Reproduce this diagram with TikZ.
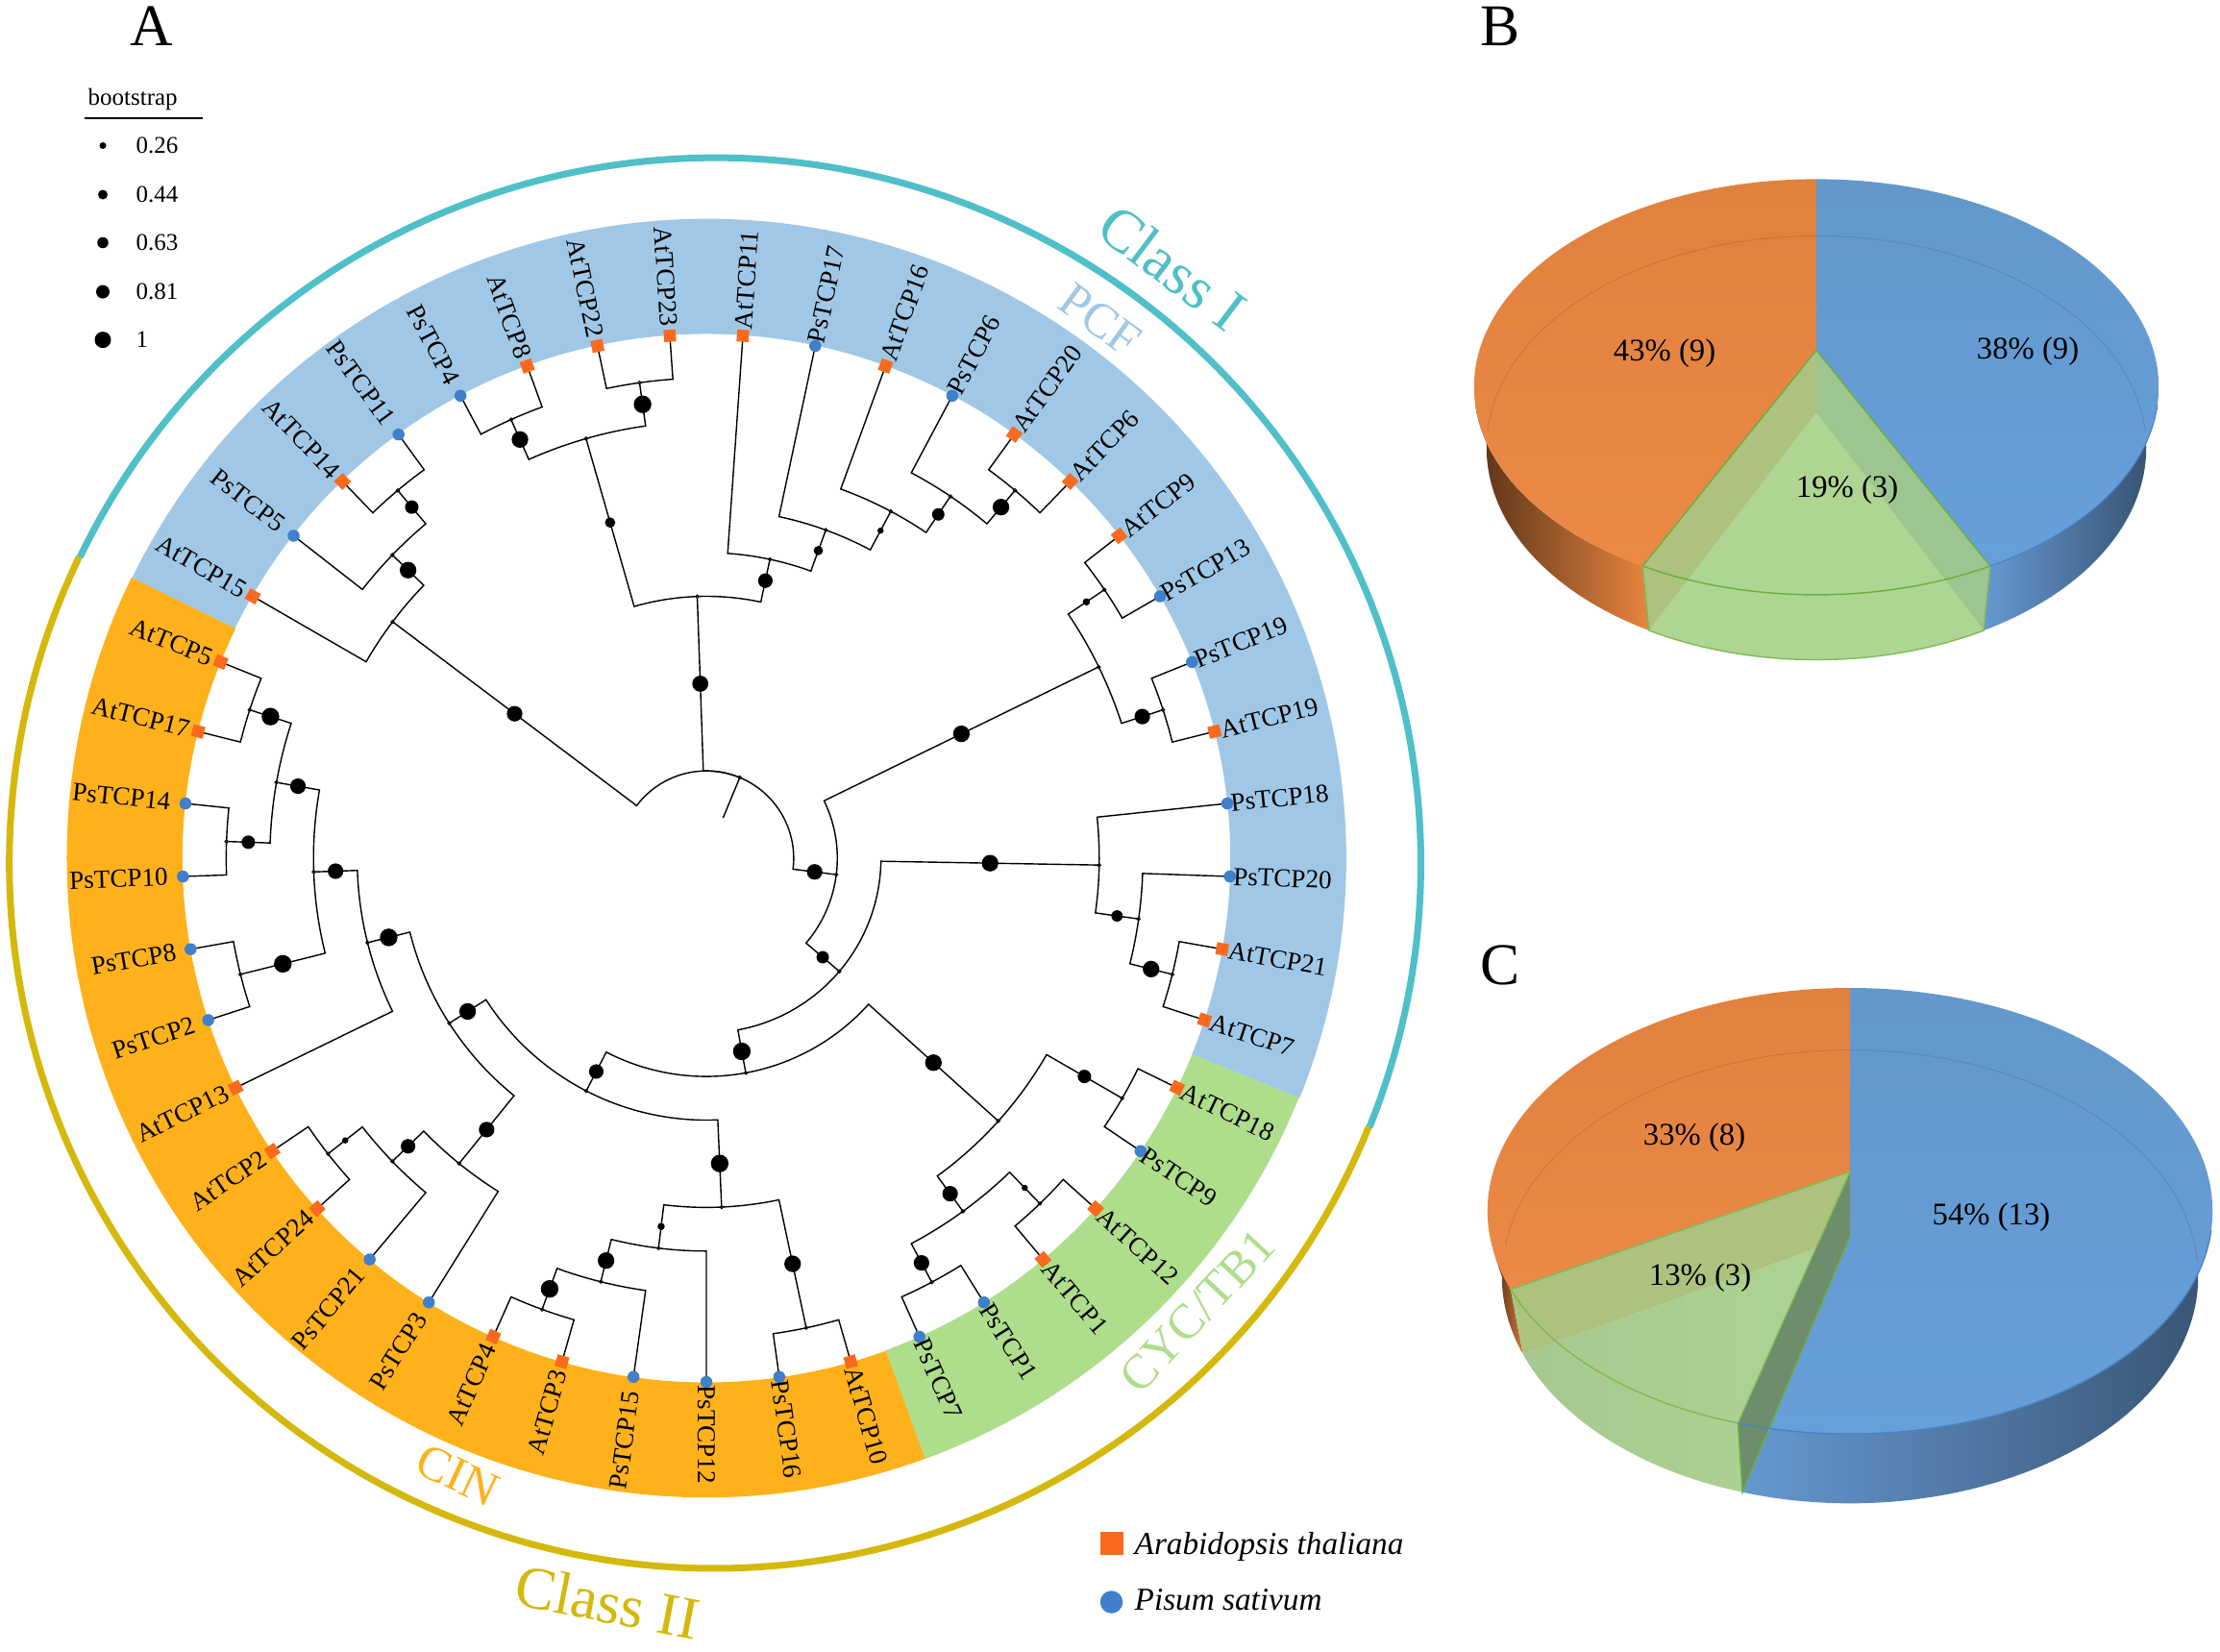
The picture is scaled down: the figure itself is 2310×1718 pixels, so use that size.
\documentclass[tikz,border=0pt]{standalone}
\usepackage{fontspec}
\setmainfont{Liberation Serif}
\usepackage{tikz}

\definecolor{pcfblue}{HTML}{A0C8E6}
\definecolor{cinorange}{HTML}{FFB11B}
\definecolor{cycgreen}{HTML}{AEDD8C}
\definecolor{classteal}{HTML}{4FBFC8}
\definecolor{classgold}{HTML}{D4B80C}
\definecolor{atorange}{HTML}{FA6A1E}
\definecolor{psblue}{HTML}{3F7FCB}
\definecolor{pieorange}{HTML}{E8853F}
\definecolor{pieorangea}{HTML}{E0813E}
\definecolor{pieorangeb}{HTML}{EC8947}
\definecolor{pieblue}{HTML}{6699D2}
\definecolor{piebluea}{HTML}{6498CB}
\definecolor{piedge}{HTML}{4A82C4}
\definecolor{pieblueb}{HTML}{679FDB}
\definecolor{pieline}{HTML}{6BAF40}
\definecolor{pielight}{HTML}{AED592}
\definecolor{pieolive}{HTML}{ADC27E}
\definecolor{piemint}{HTML}{9DC58F}
\definecolor{piedark}{HTML}{6E8D6C}

\tikzset{
	branch/.style={line width=0.4pt,black},
	bootdot/.style={circle,fill=black,inner sep=0pt},
	opendot/.style={circle,draw=black,fill=white,line width=0.25pt,inner sep=0pt,minimum size=0.035cm},
	atmark/.style={rectangle,fill=atorange,inner sep=0pt,minimum size=0.125cm},
	psmark/.style={circle,fill=psblue,inner sep=0pt,minimum size=0.125cm},
	tiplabel/.style={inner sep=0pt,font=\fontsize{7.7}{9}\selectfont},
	legendtext/.style={inner sep=0pt,anchor=west,font=\fontsize{7.1}{9}\selectfont},
	speciestext/.style={inner sep=0pt,anchor=west,font=\fontsize{9.45}{11}\selectfont\itshape},
	bigtext/.style={inner sep=0pt,font=\fontsize{17.8}{22}\selectfont},
	grouptext/.style={inner sep=0pt,font=\fontsize{14.5}{18}\selectfont},
	paneltext/.style={inner sep=0pt,font=\fontsize{17.5}{21}\selectfont},
	pietext/.style={inner sep=0pt,font=\fontsize{9.3}{11}\selectfont},
	btop/.style={x radius=3.56cm,y radius=2.162cm},
	bbase/.style={x radius=3.43cm,y radius=2.204cm},
	ctop/.style={x radius=3.77cm,y radius=2.32cm},
	cbase/.style={x radius=3.62cm,y radius=2.357cm}
}

\begin{document}
\begin{tikzpicture}[x=0.01cm,y=0.01cm]
	\useasboundingbox (0,0) rectangle (2310,-1718);

	%PANEL LETTERS
	\node[paneltext] (panelA) at (158,-27) {A};
	\node[paneltext] (panelB) at (1561,-27) {B};
	\node[paneltext] (panelC) at (1561,-1004) {C};

	%BOOTSTRAP LEGEND
	\node[legendtext] (boottitle) at (91,-103.5) {bootstrap};
	\coordinate (bootl) at (88,-123);
	\coordinate (bootr) at (211,-123);
	\draw[line width=0.45pt] (bootl)--(bootr);
	\foreach \val/\ypos/\dia in {0.26/151.5/7,0.44/202.5/10,0.63/252.5/11.5,0.81/303.6/14,1/353.6/17}{
		\node[bootdot,minimum size=\dia*0.01cm] (key\ypos) at (107,-\ypos) {};
		\node[legendtext] (val\ypos) at (141,-\ypos) {\val};
	}

	%SPECIES LEGEND
	\node[rectangle,fill=atorange,inner sep=0pt,minimum size=0.24cm] (keyat) at (1156.5,-1606) {};
	\node[speciestext] (nameat) at (1180,-1609) {Arabidopsis thaliana};
	\node[circle,fill=psblue,inner sep=0pt,minimum size=0.235cm] (keyps) at (1156.5,-1667) {};
	\node[speciestext] (nameps) at (1180,-1665) {Pisum sativum};

	%CLASS ARCS
	\begin{scope}[shift={(744,-898)}]
		\draw[classteal,line width=0.07cm] (154.3:733.5) arc[start angle=154.3,end angle=-22,radius=7.335cm];
		\draw[classgold,line width=0.07cm] (-22:733.5) arc[start angle=-22,end angle=-205.7,radius=7.335cm];
	\end{scope}
	\node[bigtext,text=classteal,rotate=-37] (classone) at (1220,-278) {Class I};
	\node[bigtext,text=classgold,rotate=-11] (classtwo) at (632,-1667) {Class II};
	\node[grouptext,text=pcfblue,rotate=-36] (pcf) at (1145,-333) {PCF};
	\node[grouptext,text=cinorange,rotate=-25] (cin) at (476,-1535) {CIN};
	\node[grouptext,text=cycgreen,rotate=47] (cyc) at (1246,-1364) {CYC/TB1};

	%TREE
	\begin{scope}[shift={(735,-893)}]
		%COLOURED RING
		\foreach \col/\from/\to in {pcfblue/154/-22,cycgreen/-22/-70,cinorange/-70/-206}{
			\fill[\col] (\from:665) arc[start angle=\from,end angle=\to,radius=6.65cm]
				-- (\to:545) arc[start angle=\to,end angle=\from,radius=5.45cm] -- cycle;
		}

		%ROOT
		\def\lvl{45.42}
		\def\angroot{67.5}
		\def\levroot{2}
		\coordinate (root) at (67.5:90.84);
		\coordinate (stub) at (67.5:45.42);
		\draw[branch] (root)--(stub);
		\node[opendot] (rootdot) at (root) {};

		%INNER NODES
		\foreach \nd/\ang/\lev/\up/\boot in {
			n1/143/9/root/15,n2/136/10/n1/16,n3/130/11/n2/13,
			n4/92/6/root/15.5,n5/106/10/n4/10,n6/114/11/n5/16,n7/98/11/n5/17,
			n8/78/7/n4/14,n9/70/8/n8/9,n10/62/9/n9/6,n11/56/10/n10/12,n12/50/11/n11/16,
			n13/-7.2/3/root/15,n14/26/10/n13/16,n15/34/11/n14/7,n16/18/11/n14/15,
			n17/-40.4/4/n13/12,n18/-1/9/n17/16,n19/-8/10/n18/11,n20/-14/11/n19/16,
			n21/-79.6/5/n17/17,n22/-42/9/n21/16,n23/-30/11/n22/13,n24/-54/10/n22/15,
			n25/-46/11/n24/6,n26/-62/11/n24/15,
			n27/-117.3/6/n21/14,n28/-87.5/8/n27/17,n29/-78/11/n28/16,n30/-97/9/n28/7,
			n31/-104/10/n30/16,n33/-110/11/n31/17,
			n32/-147.3/7/n27/16,n38/-129/9/n32/15,n39/-136/10/n38/14,n40/-142/11/n39/6,
			n34/-166/8/n32/17,n35/-178/9/n34/15,n36/-190/10/n35/15,n37/-166/11/n35/17,
			n41/-182/11/n36/13,n42/-198/11/n36/17}{
			\expandafter\xdef\csname ang\nd\endcsname{\ang}
			\expandafter\xdef\csname lev\nd\endcsname{\lev}
			\edef\upang{\csname ang\up\endcsname}
			\pgfmathsetmacro\rr{\lev*\lvl}
			\pgfmathsetmacro\upr{\csname lev\up\endcsname*\lvl}
			\pgfmathsetmacro\midr{(\rr+\upr)/2}
			\coordinate (\nd) at (\ang:\rr);
			\draw[branch] (\nd)--(\ang:\upr) arc[start angle=\ang,end angle=\upang,radius=\upr*0.01cm];
			\node[bootdot,minimum size=\boot*0.0108cm] (\nd b) at (\ang:\midr) {};
			\node[opendot] (\nd o) at (\nd) {};
		}

		%TIPS
		\def\atname{atmark}
		\foreach \nd/\ang/\up/\mk in {
			AtTCP15/150/n1/atmark,PsTCP5/142/n2/psmark,AtTCP14/134/n3/atmark,PsTCP11/126/n3/psmark,
			PsTCP4/118/n6/psmark,AtTCP8/110/n6/atmark,AtTCP22/102/n7/atmark,AtTCP23/94/n7/atmark,
			AtTCP11/86/n8/atmark,PsTCP17/78/n9/psmark,AtTCP16/70/n10/atmark,PsTCP6/62/n11/psmark,
			AtTCP20/54/n12/atmark,AtTCP6/46/n12/atmark,AtTCP9/38/n15/atmark,PsTCP13/30/n15/psmark,
			PsTCP19/22/n16/psmark,AtTCP19/14/n16/atmark,PsTCP18/6/n18/psmark,PsTCP20/-2/n19/psmark,
			AtTCP21/-10/n20/atmark,AtTCP7/-18/n20/atmark,AtTCP18/-26/n23/atmark,PsTCP9/-34/n23/psmark,
			AtTCP12/-42/n25/atmark,AtTCP1/-50/n25/atmark,PsTCP1/-58/n26/psmark,PsTCP7/-66/n26/psmark,
			AtTCP10/-74/n29/atmark,PsTCP16/-82/n29/psmark,PsTCP12/-90/n30/psmark,PsTCP15/-98/n31/psmark,
			AtTCP3/-106/n33/atmark,AtTCP4/-114/n33/atmark,PsTCP3/-122/n38/psmark,PsTCP21/-130/n39/psmark,
			AtTCP24/-138/n40/atmark,AtTCP2/-146/n40/atmark,AtTCP13/-154/n34/atmark,PsTCP2/-162/n37/psmark,
			PsTCP8/-170/n37/psmark,PsTCP10/-178/n41/psmark,PsTCP14/-186/n41/psmark,
			AtTCP17/-194/n42/atmark,AtTCP5/-202/n42/atmark}{
			\edef\upang{\csname ang\up\endcsname}
			\pgfmathsetmacro\upr{\csname lev\up\endcsname*\lvl}
			\pgfmathsetmacro\rot{cos(\ang)<0 ? \ang+180 : \ang}
			\edef\mktest{\mk}
			\ifdim\rot pt=\ang pt
				\def\anc{west}
				\ifx\mktest\atname\def\gap{551}\else\def\gap{548}\fi
			\else
				\def\anc{east}
				\ifx\mktest\atname\def\gap{554}\else\def\gap{560}\fi
			\fi
			\coordinate (\nd c) at (\ang:545);
			\draw[branch] (\nd c)--(\ang:\upr) arc[start angle=\ang,end angle=\upang,radius=\upr*0.01cm];
			\node[\mk,rotate=\ang] (\nd) at (\nd c) {};
			\node[tiplabel,rotate=\rot,anchor=\anc] (\nd l) at (\ang:\gap) {\nd};
		}
	\end{scope}

	%PIE B POINTS
	\coordinate (bt) at (1890,-402.6);
	\coordinate (bb) at (1890,-466);
	\coordinate (bapex) at (1890,-364.3);
	\coordinate (blow) at (1890,-429.4);
	\coordinate (btl) at ([shift={(bt)}]239.5:3.56cm and 2.162cm);
	\coordinate (btr) at ([shift={(bt)}]-59.5:3.56cm and 2.162cm);
	\coordinate (bbl) at ([shift={(bb)}]239.5:3.43cm and 2.204cm);
	\coordinate (bbr) at ([shift={(bb)}]-59.5:3.43cm and 2.204cm);

	%PIE B WALLS
	\shade[left color=black!65!pieorange,middle color=pieorange,right color=pieorange]
		([shift={(bb)}]170:3.43cm and 2.204cm) arc[start angle=170,end angle=239.5,bbase]
		-- (btl) arc[start angle=239.5,end angle=185,btop] -- cycle;
	\shade[left color=pieblue,middle color=pieblue!90!black,right color=pieblue!50!black]
		(bbr) arc[start angle=-59.5,end angle=10,bbase]
		-- ([shift={(bt)}]-5:3.56cm and 2.162cm) arc[start angle=-5,end angle=-59.5,btop] -- cycle;

	%PIE B TOP
	\shade[top color=pieorangea,bottom color=pieorangeb]
		(bapex)--(1890,-186.4) arc[start angle=90,end angle=239.5,btop] -- cycle;
	\shade[top color=piebluea,bottom color=pieblueb]
		(bapex)--(1890,-186.4) arc[start angle=90,end angle=-59.5,btop] -- cycle;
	\draw[black,opacity=0.1,line width=0.3pt] ([shift={(bb)}]4.4:3.43cm and 2.204cm) arc[start angle=4.4,end angle=175.6,bbase];

	%PIE B GREEN SLICE
	\fill[pielight] (blow)--(bbl) arc[start angle=239.5,end angle=300.5,bbase] -- cycle;
	\fill[pieolive] (bapex)--(btl)--(bbl)--(blow)--cycle;
	\fill[piemint] (bapex)--(btr)--(bbr)--(blow)--cycle;
	\draw[pieline!70!pielight,line width=0.4pt] (btr)--(bbr) arc[start angle=300.5,end angle=239.5,bbase] --(btl);
	\draw[pieline,line width=0.4pt] (btl)--(bapex)--(btr) arc[start angle=300.5,end angle=239.5,btop];
	\draw[piedge,line width=0.3pt] (btr) arc[start angle=-59.5,end angle=-5,btop];

	%PIE B LABELS
	\node[pietext] (borange) at (1732,-368) {43\% (9)};
	\node[pietext] (bblue) at (2110,-366) {38\% (9)};
	\node[pietext] (bgreen) at (1922,-509.5) {19\% (3)};

	%PIE C POINTS
	\coordinate (ct) at (1925,-1260);
	\coordinate (cb) at (1925,-1328.4);
	\coordinate (capex) at (1925,-1219.2);
	\coordinate (clow) at (1925,-1286.4);
	\coordinate (ctl) at ([shift={(ct)}]200.6:3.77cm and 2.32cm);
	\coordinate (ctr) at ([shift={(ct)}]252:3.77cm and 2.32cm);
	\coordinate (cbl) at ([shift={(cb)}]200:3.62cm and 2.357cm);
	\coordinate (cbr) at ([shift={(cb)}]252:3.62cm and 2.357cm);

	%PIE C WALLS
	\shade[left color=black!65!pieorange,right color=pieorange!90!black]
		([shift={(cb)}]180:3.62cm and 2.357cm) arc[start angle=180,end angle=200,cbase]
		-- (ctl) -- ([shift={(ct)}]191.6:3.77cm and 2.32cm) -- cycle;
	\shade[left color=pieblue,middle color=pieblue,right color=pieblue!55!black]
		(cbr) arc[start angle=252,end angle=370,cbase]
		-- ([shift={(ct)}]355:3.77cm and 2.32cm) arc[start angle=355,end angle=252,ctop] -- cycle;

	%PIE C TOP
	\shade[top color=pieorangea,bottom color=pieorangeb]
		(capex)--(1925,-1028) arc[start angle=90,end angle=200.6,ctop] -- cycle;
	\shade[top color=piebluea,bottom color=pieblueb]
		(capex)--(1925,-1028) arc[start angle=90,end angle=-108,ctop] -- cycle;
	\draw[black,opacity=0.1,line width=0.3pt] ([shift={(cb)}]4:3.62cm and 2.357cm) arc[start angle=4,end angle=172,cbase];

	%PIE C GREEN SLICE
	\shade[left color=pielight!85!gray,middle color=pielight,right color=pielight]
		(clow)--(cbl) arc[start angle=200,end angle=252,cbase] -- cycle;
	\fill[pieolive] (capex)--(ctl)--(cbl)--(clow)--cycle;
	\fill[piedark] (capex)--(clow)--(cbr)--(ctr)--cycle;
	\draw[pieline!70!pielight,line width=0.4pt] (ctr)--(capex)--(ctl) arc[start angle=200.6,end angle=252,ctop];
	\draw[pieline,line width=0.4pt] (clow)--(cbr)--(ctr);
	\draw[piedge,line width=0.4pt] (ctr) arc[start angle=252,end angle=355,ctop];

	%PIE C LABELS
	\node[pietext] (corange) at (1763,-1184) {33\% (8)};
	\node[pietext] (cblue) at (2072,-1267) {54\% (13)};
	\node[pietext] (cgreen) at (1769,-1330) {13\% (3)};
\end{tikzpicture}
\end{document}
